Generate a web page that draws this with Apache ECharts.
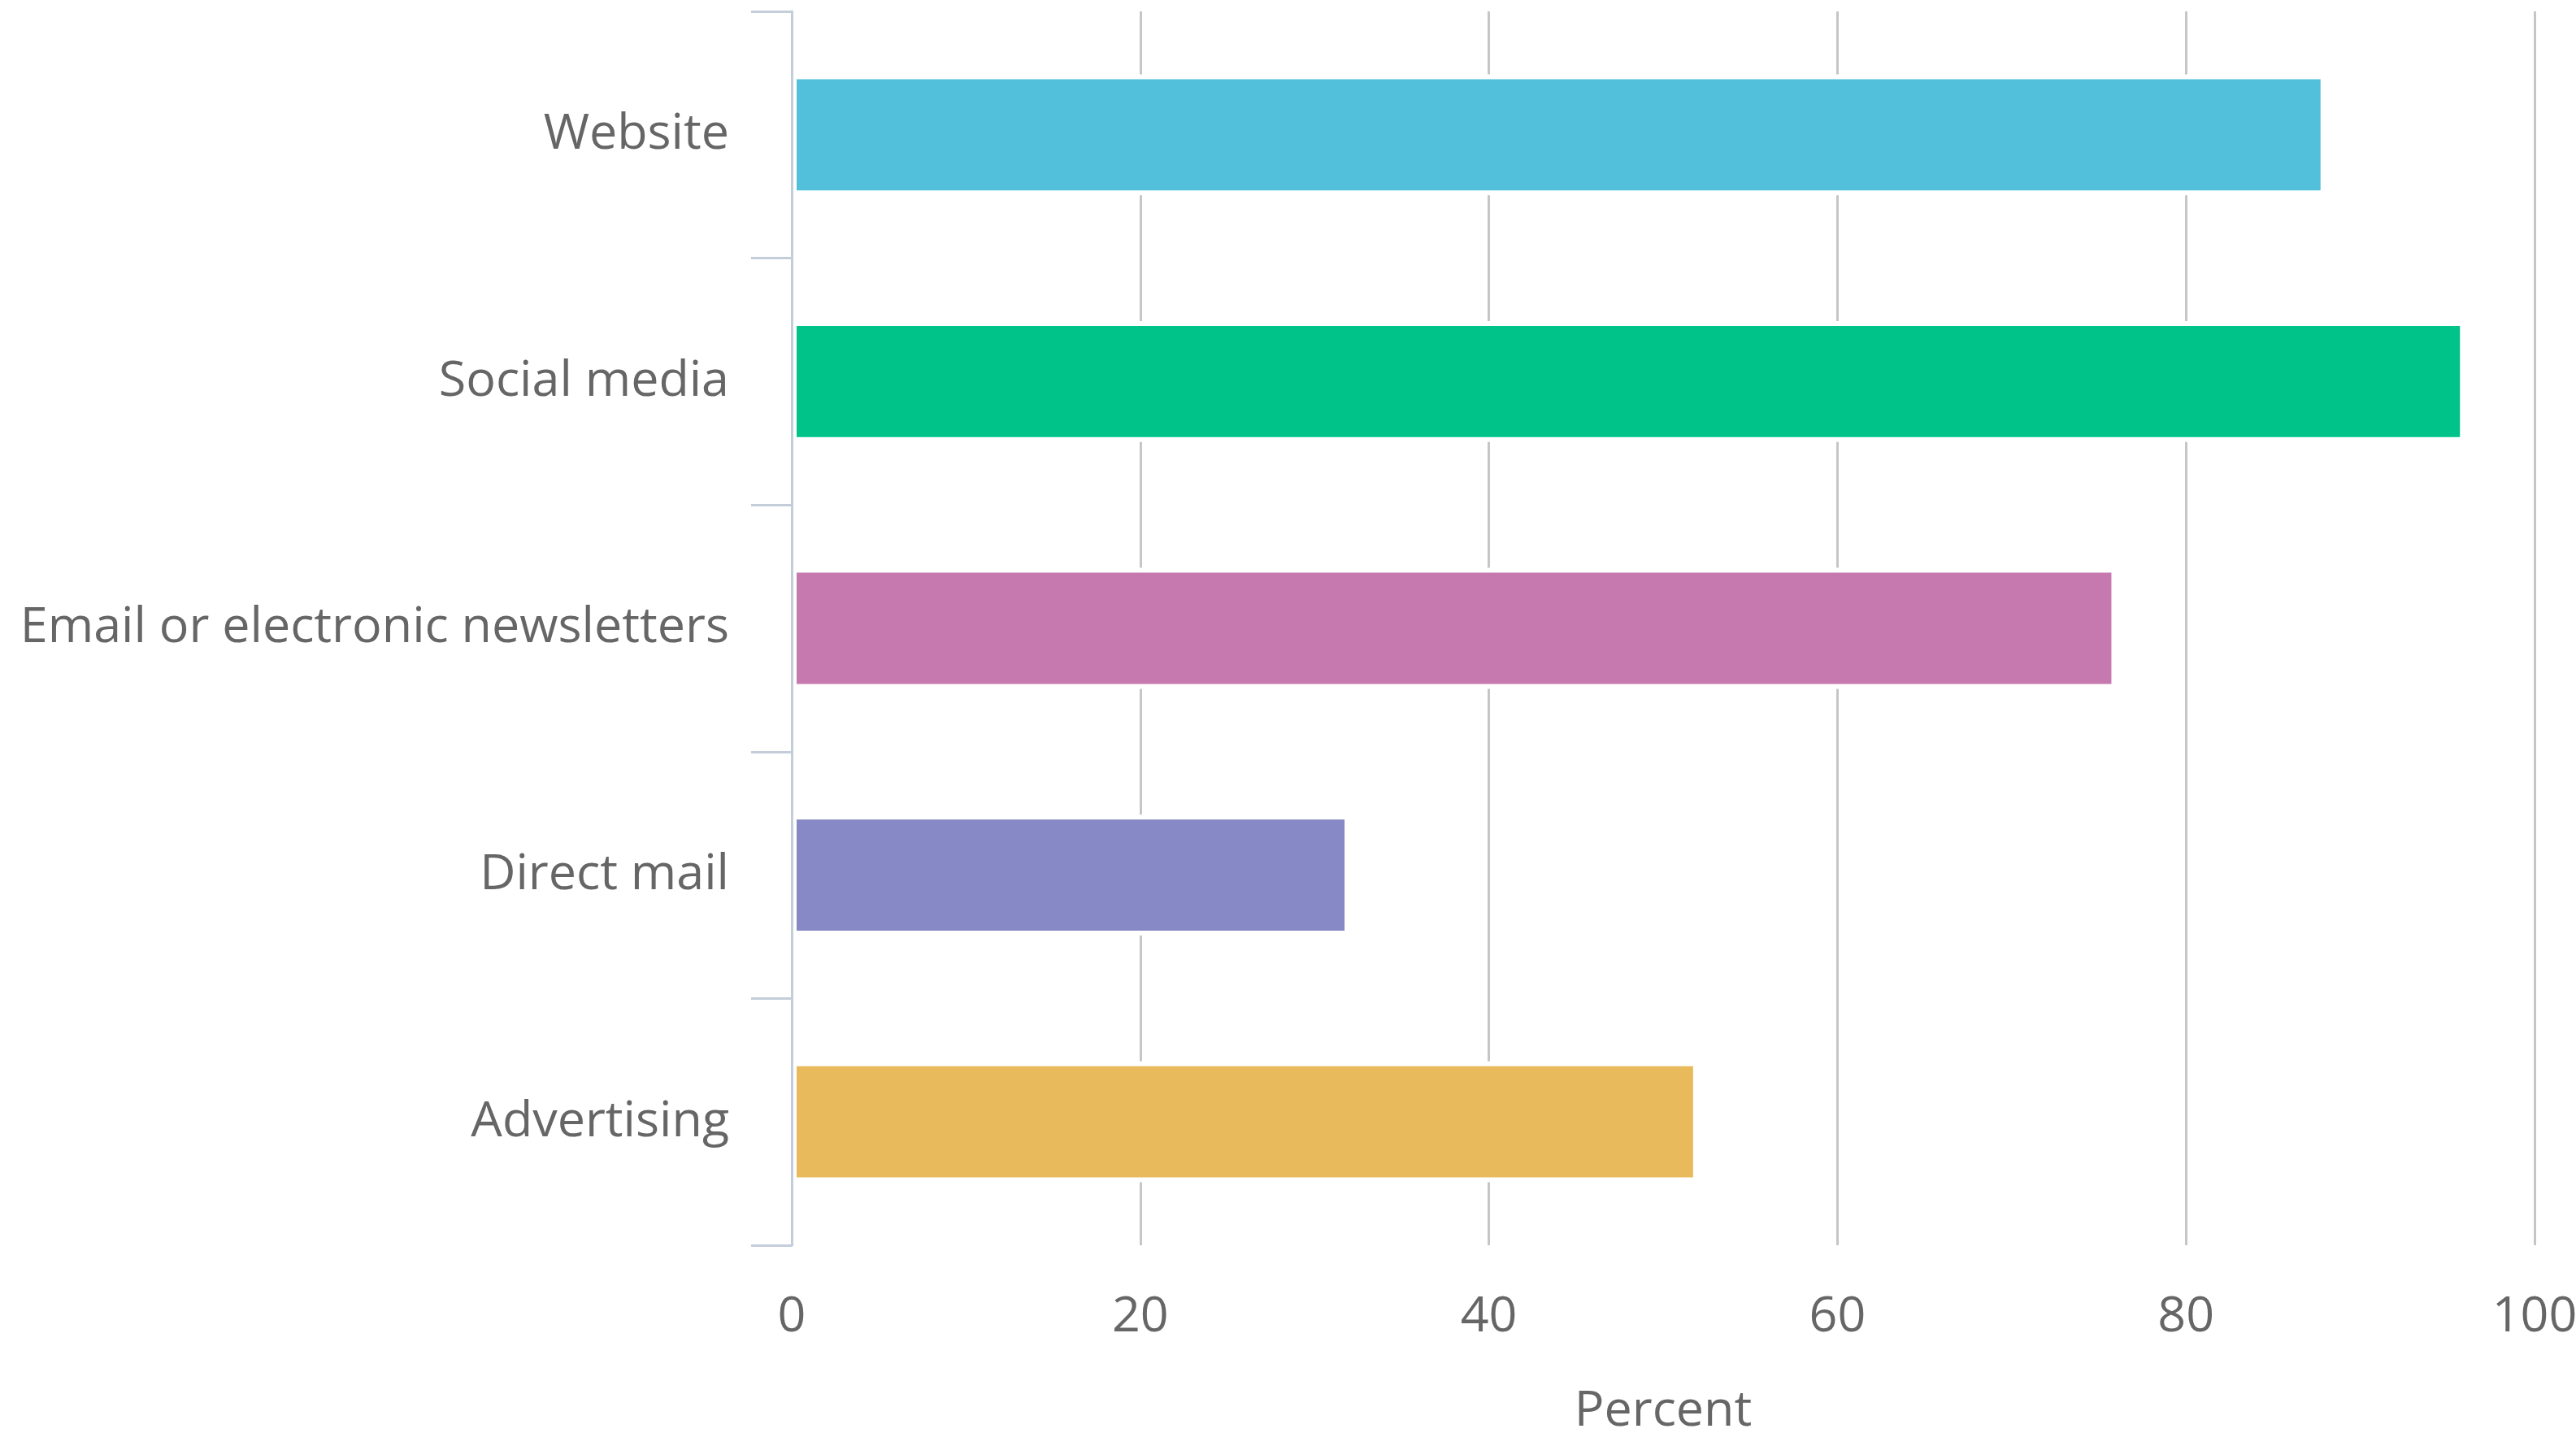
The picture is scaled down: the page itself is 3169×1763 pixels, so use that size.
<!DOCTYPE html>
<html>
<head>
<meta charset="utf-8">
<title>Promotion channels</title>
<script src="https://cdn.jsdelivr.net/npm/echarts@6/dist/echarts.min.js"></script>
<style>
  html, body { margin: 0; padding: 0; background: #ffffff; }
  #chart { width: 3169px; height: 1763px; }
</style>
</head>
<body>
<div id="chart"></div>
<script>
// Channels, listed top to bottom
const categories = ['Website', 'Social media', 'Email or electronic newsletters', 'Direct mail', 'Advertising'];
// Share of respondents using each channel (percent)
const values = [88, 96, 76, 32, 52];
// One fill per channel
const barColors = ['#52c0da', '#00c389', '#c579af', '#8689c5', '#e9ba5c'];
// Value axis
const axisMin = 0;
const axisMax = 100;
const axisStep = 20;
const axisName = 'Percent';

const fontFamily = '"Open Sans", "Noto Sans", sans-serif';
const textColor = '#666666';

const chart = echarts.init(document.getElementById('chart'), null, { renderer: 'canvas' });

chart.setOption({
  animation: false,
  backgroundColor: '#ffffff',
  grid: {
    left: 974, right: 51, top: 14, bottom: 231,
    containLabel: false,
    outerBoundsMode: 'none'
  },
  xAxis: {
    type: 'value',
    min: axisMin,
    max: axisMax,
    interval: axisStep,
    z: 0,
    name: axisName,
    nameLocation: 'middle',
    nameGap: 174,
    nameTextStyle: { fontFamily: fontFamily, fontSize: 61, color: textColor },
    axisLine: { show: false },
    axisTick: { show: false },
    axisLabel: { fontFamily: fontFamily, fontSize: 61, color: textColor, margin: 58 },
    splitLine: { show: true, lineStyle: { color: '#c6c6c6', width: 3 } }
  },
  yAxis: {
    type: 'category',
    data: categories,
    inverse: true,
    z: 5,
    axisLine: { show: true, lineStyle: { color: '#c4cdda', width: 3 } },
    axisTick: { show: true, length: 50, lineStyle: { color: '#c4cdda', width: 3 } },
    axisLabel: { fontFamily: fontFamily, fontSize: 61, color: textColor, margin: 77, padding: [12, 0, 0, 0] },
    splitLine: { show: false }
  },
  series: [{
    type: 'bar',
    data: values.map((v, i) => ({ value: v, itemStyle: { color: barColors[i] } })),
    barCategoryGap: '51%',
    itemStyle: { borderColor: '#ffffff', borderWidth: 6 },
    z: 2
  }]
});
</script>
</body>
</html>
